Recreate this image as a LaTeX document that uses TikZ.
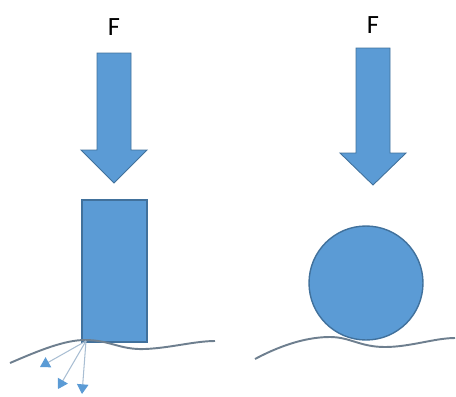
\documentclass[tikz,border=0pt]{standalone}
\usepackage{fontspec}
\setmainfont{Carlito}
\usepackage{tikz}
\usetikzlibrary{arrows.meta}
\usetikzlibrary{positioning}
\definecolor{officeblue}{HTML}{5B9BD5}
\definecolor{officeedge}{HTML}{41719C}
\definecolor{groundgray}{HTML}{6E7F8F}
\definecolor{spreadblue}{HTML}{A9BED3}
\tikzstyle{force}=[fill=officeblue,draw=officeedge,line width=0.5pt,line join=miter]
\tikzstyle{label}=[font=\fontsize{15}{17}\selectfont,inner sep=0pt]
\tikzstyle{body}=[fill=officeblue,draw=officeedge,line width=0.8pt,inner sep=0pt]
\tikzstyle{ground}=[draw=groundgray,line width=1.1pt]
\tikzstyle{spread}=[draw=spreadblue,line width=0.6pt,-{Triangle[width=6.5pt,length=5.5pt,color=officeblue]}]

\begin{document}
\begin{tikzpicture}[x=0.02cm,y=-0.02cm]
\useasboundingbox (0,0) rectangle (456,396);
\node[label] (fa) at (114,27) {F};
\node[label] (fb) at (373,25) {F};
%big arrows
\draw[force] (97,53) -- (131,53) -- (131,150) -- (147,150) -- (114,183) -- (81,150) -- (97,150) -- cycle;
\draw[force] (356,48) -- (390,48) -- (390,153) -- (406,153) -- (373,185) -- (340,153) -- (356,153) -- cycle;
%bodies
\node[body,minimum width=1.3cm,minimum height=2.84cm] (block) at (114.5,271) {};
\node[body,circle,minimum size=2.28cm] (ball) at (366,283) {};
%ground
\draw[ground] (10,363) .. controls (40,350) and (65,340) .. (85,340) .. controls (110,340) and (120,350) .. (145,349) .. controls (170,348) and (195,341) .. (215,341);
\draw[ground] (255,359) .. controls (285,343) and (310,337) .. (330,337) .. controls (350,337) and (360,347) .. (385,347) .. controls (410,347) and (435,338) .. (455,338);
%spreading
\coordinate (c) at (86,341);
\coordinate (s1) at (40,367);
\coordinate (s2) at (58,389);
\coordinate (s3) at (82,394);
\draw[spread] (c) -- (s1);
\draw[spread] (c) -- (s2);
\draw[spread] (c) -- (s3);
\end{tikzpicture}
\end{document}
